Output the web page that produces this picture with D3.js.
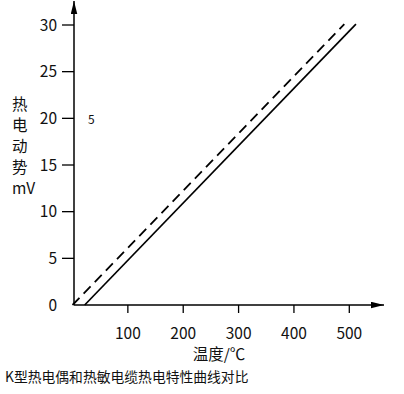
<!DOCTYPE html>
<html lang="zh">
<head>
<meta charset="UTF-8" />
<title>K型热电偶和热敏电缆热电特性曲线对比</title>
<script src="https://d3js.org/d3.v7.min.js"></script>
<style>
  body { margin: 0; padding: 0; background: #fff; }
  svg { display: block; }
  text { font-family: "Noto Sans CJK SC", "DejaVu Sans", sans-serif; fill: #111; }
</style>
</head>
<body>
<svg width="404" height="394"></svg>
<script>
  // 数据
  const xTicks = [100, 200, 300, 400, 500];
  const yTicks = [0, 5, 10, 15, 20, 25, 30];
  const yLabelChars = ["热", "电", "动", "势", "mV"];
  const solidTemp = [22, 512];      // 热电偶
  const solidEmf = [0, 30.1];
  const dashTemp = [0, 491];        // 热敏电缆
  const dashEmf = [0, 30.1];

  const svg = d3.select("svg");

  const x = d3.scaleLinear().domain([0, 500]).range([72.5, 349.3]);
  const y = d3.scaleLinear().domain([0, 30]).range([305, 25]);
  const x0 = 74, y0 = 305;

  // 箭头
  svg.append("defs").append("marker")
    .attr("id", "arrow")
    .attr("viewBox", "0 0 12 6")
    .attr("refX", 12).attr("refY", 3)
    .attr("markerUnits", "userSpaceOnUse")
    .attr("markerWidth", 13).attr("markerHeight", 7)
    .attr("orient", "auto")
    .append("path").attr("d", "M0,0L12,3L0,6Z").attr("fill", "#000");

  // 坐标轴
  svg.append("line")
    .attr("x1", x0).attr("y1", y0).attr("x2", x0).attr("y2", 1)
    .attr("stroke", "#000").attr("stroke-width", 1.5)
    .attr("marker-end", "url(#arrow)");
  svg.append("line")
    .attr("x1", x0).attr("y1", y0).attr("x2", 384).attr("y2", y0)
    .attr("stroke", "#000").attr("stroke-width", 1.5)
    .attr("marker-end", "url(#arrow)");

  // y 刻度
  const yg = svg.selectAll(".ytick").data(yTicks).enter().append("g").attr("class", "ytick");
  yg.filter(d => d !== 0).append("line")
    .attr("x1", 62).attr("x2", x0)
    .attr("y1", d => y(d)).attr("y2", d => y(d))
    .attr("stroke", "#000").attr("stroke-width", 1.3);
  yg.append("text")
    .attr("x", 57).attr("y", d => y(d) + 5.5)
    .attr("text-anchor", "end").attr("font-size", 15.5)
    .text(d => d);

  // x 刻度
  const xg = svg.selectAll(".xtick").data(xTicks).enter().append("g").attr("class", "xtick");
  xg.append("line")
    .attr("x1", d => x(d)).attr("x2", d => x(d))
    .attr("y1", y0).attr("y2", 313)
    .attr("stroke", "#000").attr("stroke-width", 1.3);
  xg.append("text")
    .attr("x", d => x(d)).attr("y", 338.5)
    .attr("text-anchor", "middle").attr("font-size", 15.5)
    .text(d => d);

  // 曲线
  const line = d3.line().x(d => x(d[0])).y(d => y(d[1]));
  svg.append("path")
    .attr("d", line(d3.zip(solidTemp, solidEmf)))
    .attr("fill", "none").attr("stroke", "#000").attr("stroke-width", 1.7);
  svg.append("path")
    .attr("d", line(d3.zip(dashTemp, dashEmf)))
    .attr("fill", "none").attr("stroke", "#000").attr("stroke-width", 1.8)
    .attr("stroke-dasharray", "10,6");

  // y 轴标题
  svg.selectAll(".ylab").data(yLabelChars).enter().append("text")
    .attr("class", "ylab")
    .attr("x", 12).attr("y", (d, i) => 110 + i * 21)
    .attr("font-size", 15.5)
    .text(d => d);

  svg.append("text")
    .attr("x", 88).attr("y", 124)
    .attr("font-size", 12)
    .text("5");

  // x 轴标题
  svg.append("text")
    .attr("x", 219).attr("y", 360)
    .attr("text-anchor", "middle").attr("font-size", 15.5)
    .text("温度/℃");

  // 图题
  svg.append("text")
    .attr("x", 5).attr("y", 382)
    .attr("font-size", 13.8)
    .text("K型热电偶和热敏电缆热电特性曲线对比");
</script>
</body>
</html>
